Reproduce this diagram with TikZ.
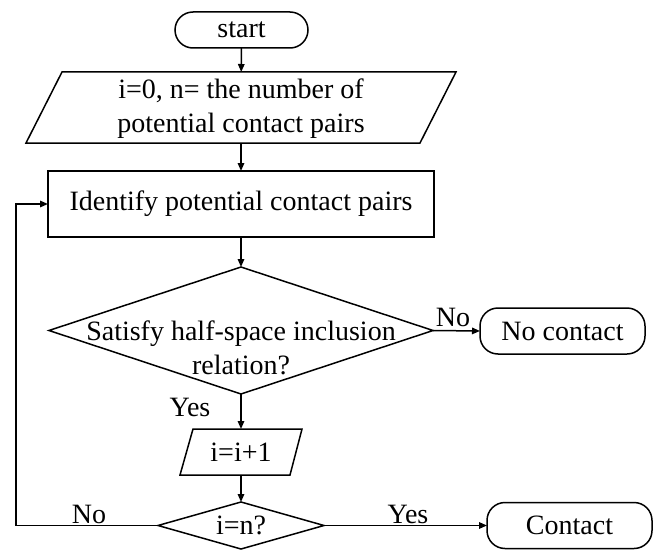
\documentclass[tikz,border=0pt]{standalone}
\usepackage{fontspec}
\setmainfont{Liberation Serif}
\usetikzlibrary{shapes.geometric,arrows.meta}
\begin{document}
\begin{tikzpicture}[x=1pt,y=-1pt,line width=1.5pt,
  every node/.style={font=\fontsize{28}{34}\selectfont, inner sep=0pt, outer sep=0pt},
  term/.style={draw, rounded corners=18pt},
  procbox/.style={draw},
  decision/.style={draw, diamond},
  iobox/.style={align=center},
  txt/.style={align=center},
  arr/.style={-{Triangle[length=8pt,width=6.5pt]}}]
\useasboundingbox (0,0) rectangle (656,551);

\node[term, minimum width=133pt, minimum height=36pt] (start) at (241.5,30) {start};
\node[iobox, minimum width=430pt, minimum height=71pt] (io1) at (241,107.5) {};
\node[txt] (io1t) at (241,109) {i=0, n= the number of\\potential contact pairs};
\draw ([xshift=36pt]io1.north west) -- (io1.north east) -- ([xshift=-36pt]io1.south east) -- (io1.south west) -- cycle;
\node[procbox, minimum width=386pt, minimum height=66pt] (proc) at (241,204) {Identify potential contact pairs};
\node[decision, minimum width=384pt, minimum height=127pt] (d1) at (241,330.5) {};
\node[txt] (d1t) at (241,347.5) {Satisfy half-space inclusion\\relation?};
\node[term, minimum width=165pt, minimum height=46pt] (nc) at (562.5,331) {No contact};
\node[iobox, minimum width=122pt, minimum height=46pt] (io2) at (241,452) {i=i+1};
\draw ([xshift=13pt]io2.north west) -- (io2.north east) -- ([xshift=-12pt]io2.south east) -- (io2.south west) -- cycle;
\node[decision, minimum width=166pt, minimum height=47pt] (d2) at (241,525.5) {};
\node[txt] (d2t) at (241,525.5) {i=n?};
\node[term, minimum width=165pt, minimum height=46pt] (ct) at (569.5,525.5) {Contact};
\coordinate (fb) at (16,525.5);

\draw[arr] (start) -- (io1);
\draw[arr] (io1) -- (proc);
\draw[arr] (proc) -- (d1);
\draw[arr] (d1.east) -- (nc.west);
\draw[arr] (d1.south) -- (io2.north);
\draw[arr] (io2) -- (d2.north);
\draw[arr] (d2.east) -- (ct.west);
\draw[arr] (d2.west) -- (fb) |- (proc.west);

\node (lno1) at (453,317) {No};
\node (lyes1) at (190,407) {Yes};
\node (lno2) at (89,514) {No};
\node (lyes2) at (408,514) {Yes};
\end{tikzpicture}
\end{document}
